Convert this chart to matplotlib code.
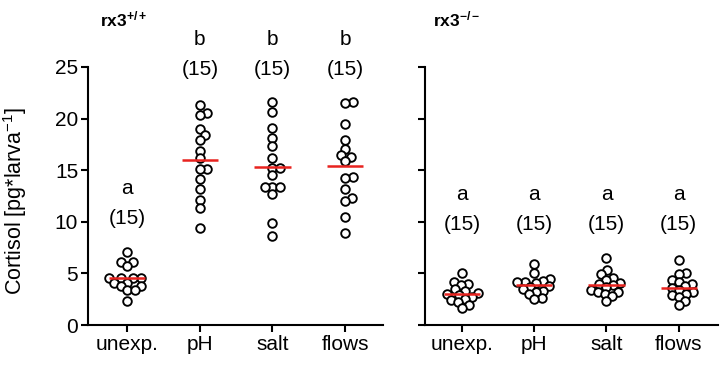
import numpy as np
import matplotlib.pyplot as plt

plt.rcParams['font.family'] = 'Liberation Sans'
plt.rcParams['mathtext.fontset'] = 'custom'
plt.rcParams['mathtext.rm'] = 'Liberation Sans'
plt.rcParams['mathtext.it'] = 'Liberation Sans:italic'
plt.rcParams['mathtext.bf'] = 'Liberation Sans:bold'

groups = ["unexp.", "pH", "salt", "flows"]

# rx3 +/+ larvae
wt_unexp = [7.1, 6.1, 6.1, 5.7, 4.6, 4.55, 4.55, 4.55, 4.1, 4.1, 3.8, 3.75, 3.4, 3.4, 2.3]
wt_ph = [21.3, 20.5, 20.3, 19.0, 18.4, 17.9, 16.9, 16.2, 15.1, 15.1, 14.1, 13.2, 12.1, 11.3, 9.4]
wt_salt = [21.6, 20.6, 19.1, 18.1, 17.3, 16.2, 15.2, 15.2, 14.5, 13.4, 13.4, 13.4, 12.7, 9.9, 8.6]
wt_flows = [21.6, 21.5, 19.5, 17.9, 17.1, 16.5, 16.3, 15.9, 14.3, 14.2, 13.2, 12.3, 12.0, 10.5, 8.9]

# rx3 -/- larvae
ko_unexp = [5.0, 4.2, 4.0, 3.9, 3.5, 3.3, 3.1, 3.0, 2.9, 2.7, 2.5, 2.4, 2.2, 1.9, 1.6]
ko_ph = [5.9, 5.0, 4.5, 4.3, 4.2, 4.2, 4.1, 3.8, 3.7, 3.5, 3.3, 3.2, 3.0, 2.6, 2.5]
ko_salt = [6.5, 5.3, 4.9, 4.6, 4.4, 4.1, 4.0, 3.9, 3.7, 3.4, 3.2, 3.2, 3.0, 2.8, 2.3]
ko_flows = [6.3, 5.0, 4.9, 4.4, 4.2, 4.0, 3.8, 3.6, 3.4, 3.2, 3.0, 2.9, 2.7, 2.3, 1.9]

wt_center = [4.6, 16.0, 15.3, 15.4]
ko_center = [3.0, 3.9, 3.9, 3.6]
wt_letters = ["a", "b", "b", "b"]
ko_letters = ["a", "a", "a", "a"]
n_larvae = [15, 15, 15, 15]

RED = "#e8231f"


def swarm(vals, px_x, px_y, d=7.2):
    # simple beeswarm in pixel space, returns x offsets in data units
    placed = []
    offs = np.zeros(len(vals))
    for i in np.argsort(vals):
        y = vals[i] * px_y
        best = None
        k = 0
        while best is None:
            for s in ([0] if k == 0 else [k, -k]):
                x = s * 0.5
                if all((x - a) ** 2 + (y - b) ** 2 >= d * d for a, b in placed):
                    best = x
                    break
            k += 1
        placed.append((best, y))
        offs[i] = best / px_x
    return offs


def panel(ax, data, centers, letters, xlim):
    ax.set_xlim(*xlim)
    ax.set_ylim(0, 25)
    fig_w = fig.get_size_inches()[0] * fig.dpi
    fig_h = fig.get_size_inches()[1] * fig.dpi
    pos = ax.get_position()
    px_x = pos.width * fig_w / (xlim[1] - xlim[0])
    px_y = pos.height * fig_h / 25.0

    tops = [max(v) for v in data]
    for i, vals in enumerate(data):
        vals = np.array(vals)
        offs = swarm(vals, px_x, px_y)
        ax.plot(i + offs, vals, "o", ms=6.2, mfc="white", mec="black",
                mew=1.35, clip_on=False, zorder=3)
        ax.plot([i - 0.25, i + 0.25], [centers[i], centers[i]], color=RED,
                lw=1.8, zorder=4, solid_capstyle="butt")
        ty = max(t for t in tops if abs(t - tops[i]) < 5) + 3.2
        ax.text(i, ty, "(%d)" % n_larvae[i], ha="center", va="center",
                fontsize=15, clip_on=False)
        ax.text(i, ty + 2.9, letters[i], ha="center", va="center",
                fontsize=15, clip_on=False)

    ax.set_xticks(range(len(groups)))
    ax.set_xticklabels(groups, fontsize=15)
    ax.set_yticks([0, 5, 10, 15, 20, 25])
    ax.spines["top"].set_visible(False)
    ax.spines["right"].set_visible(False)
    ax.spines["left"].set_linewidth(1.5)
    ax.spines["bottom"].set_linewidth(1.5)
    ax.tick_params(width=1.5, length=5, labelsize=15, pad=2)


fig = plt.figure(figsize=(7.21, 3.66), dpi=100)
ax1 = fig.add_axes([0.122, 0.112, 0.409, 0.705])
ax2 = fig.add_axes([0.5895, 0.112, 0.406, 0.705])

panel(ax1, [wt_unexp, wt_ph, wt_salt, wt_flows], wt_center, wt_letters, (-0.54, 3.52))
panel(ax2, [ko_unexp, ko_ph, ko_salt, ko_flows], ko_center, ko_letters, (-0.51, 3.54))
ax2.set_yticklabels([])

ax1.set_ylabel("Cortisol [pg*larva$^{-1}$]", fontsize=15.5)
ax1.yaxis.set_label_coords(-0.2, 0.48)

fig.text(100 / 721, 1 - 26 / 366, r"$\mathbf{rx3}^{\mathbf{+/+}}$", fontsize=12.5)
fig.text(433 / 721, 1 - 26 / 366, r"$\mathbf{rx3}^{\mathbf{-/-}}$", fontsize=12.5)

fig.savefig("out.png", dpi=100)
